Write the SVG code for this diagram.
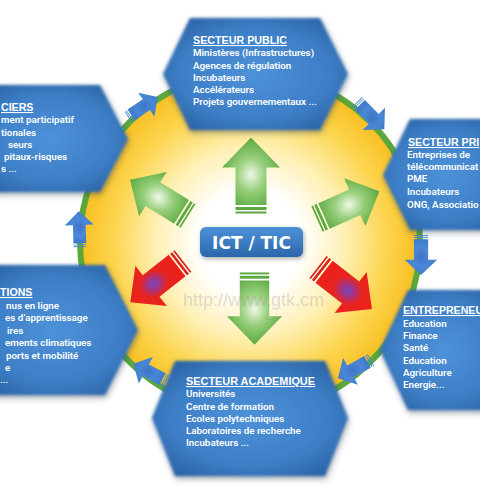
<svg xmlns="http://www.w3.org/2000/svg" width="480" height="504" viewBox="0 0 480 504">
<defs>
<style>
.t{font-family:Roboto,"Liberation Sans",sans-serif;font-weight:600;font-size:9.8px;fill:#fff}
.h{font-family:"Liberation Sans",Arial,sans-serif;font-weight:bold;font-size:10.6px;fill:#fff;text-decoration:underline}
.hex{fill:url(#hexg);filter:url(#hexf)}
.ga{fill:url(#greeng)}
.gs{fill:#5aa83e}
.ra{fill:url(#redg)}
.rs{fill:#d8241c}
.ba{fill:url(#blueg)}
.bs{fill:#4a86d0}
</style>
<radialGradient id="sun" cx="250" cy="242" r="172" gradientUnits="userSpaceOnUse">
<stop offset="0" stop-color="#ffffff"/>
<stop offset="0.3" stop-color="#ffffff"/>
<stop offset="0.55" stop-color="#fff0b4"/>
<stop offset="0.8" stop-color="#fcd44c"/>
<stop offset="1" stop-color="#f8bd1e"/>
</radialGradient>
<radialGradient id="hexg" cx="0.5" cy="0.5" r="0.62">
<stop offset="0" stop-color="#4d92d8"/>
<stop offset="0.65" stop-color="#3d7ec6"/>
<stop offset="1" stop-color="#2a62a4"/>
</radialGradient>
<radialGradient id="greeng" cx="0.45" cy="0.5" r="0.55">
<stop offset="0" stop-color="#eef8e6"/>
<stop offset="0.45" stop-color="#98cf7c"/>
<stop offset="1" stop-color="#5aa83e"/>
</radialGradient>
<radialGradient id="redg" cx="0.5" cy="0.5" r="0.5">
<stop offset="0" stop-color="#6a4cb8"/>
<stop offset="0.2" stop-color="#a2358a"/>
<stop offset="0.5" stop-color="#e6241f"/>
<stop offset="1" stop-color="#ee2019"/>
</radialGradient>
<radialGradient id="blueg" cx="0.5" cy="0.5" r="0.55">
<stop offset="0" stop-color="#3f74c8"/>
<stop offset="0.5" stop-color="#4a88d6"/>
<stop offset="1" stop-color="#3a78c8"/>
</radialGradient>
<linearGradient id="boxg" x1="0" y1="0" x2="0" y2="1">
<stop offset="0" stop-color="#4d92d8"/>
<stop offset="1" stop-color="#2b66ac"/>
</linearGradient>
<filter id="hexf" x="-15%" y="-15%" width="130%" height="135%">
<feGaussianBlur in="SourceAlpha" stdDeviation="3" result="b"/>
<feOffset in="b" dx="1" dy="3" result="o"/>
<feFlood flood-color="#3c4650" flood-opacity="0.45"/>
<feComposite in2="o" operator="in" result="sh"/>
<feGaussianBlur in="SourceGraphic" stdDeviation="1.6" result="s"/>
<feMerge><feMergeNode in="sh"/><feMergeNode in="s"/></feMerge>
</filter>
<filter id="boxf" x="-20%" y="-30%" width="140%" height="170%">
<feGaussianBlur in="SourceAlpha" stdDeviation="2" result="b"/>
<feOffset in="b" dx="1" dy="2" result="o"/>
<feFlood flood-color="#333" flood-opacity="0.4"/>
<feComposite in2="o" operator="in" result="sh"/>
<feMerge><feMergeNode in="sh"/><feMergeNode in="SourceGraphic"/></feMerge>
</filter>
<g id="bigG">
<rect class="gs" x="0" y="-15.5" width="2" height="31"/>
<rect class="gs" x="3.5" y="-15.5" width="3" height="31"/>
<path class="ga" d="M8.5,-15.5 L46,-15.5 L46,-29 L76,0 L46,29 L46,15.5 L8.5,15.5 Z"/>
</g>
<g id="bigR">
<rect class="rs" x="0" y="-15.5" width="2" height="31"/>
<rect class="rs" x="3.5" y="-15.5" width="3" height="31"/>
<path class="ra" d="M8.5,-15.5 L46,-15.5 L46,-29 L76,0 L46,29 L46,15.5 L8.5,15.5 Z"/>
</g>
<g id="smallB">
<rect class="bs" x="0" y="-7.5" width="1" height="15"/>
<rect class="bs" x="2" y="-7.5" width="1" height="15"/>
<path class="ba" d="M4.5,-7.5 L26,-7.5 L26,-17 L42,0 L26,17 L26,7.5 L4.5,7.5 Z"/>
</g>
</defs>

<rect x="0" y="0" width="480" height="504" fill="#ffffff"/>

<g id="hub">
<circle cx="250" cy="242" r="170" fill="url(#sun)" stroke="#5aa83c" stroke-width="6"/>
</g>

<g id="public">
<polygon class="hex" points="163,74 190,18 320,18 348,74 320,130 190,130"/>
<text class="h" x="193" y="44" textLength="94" lengthAdjust="spacingAndGlyphs">SECTEUR PUBLIC</text>
<text class="t" x="193" y="56">Ministères (Infrastructures)</text>
<text class="t" x="193" y="68.5">Agences de régulation</text>
<text class="t" x="193" y="81">Incubateurs</text>
<text class="t" x="193" y="93">Accélérateurs</text>
<text class="t" x="193" y="105">Projets gouvernementaux ...</text>
</g>

<g id="financiers">
<polygon class="hex" points="-30,85 100,85 128,139 100,192 -30,192"/>
<text class="h" x="1" y="111">CIERS</text>
<text class="t" x="1" y="123">ment participatif</text>
<text class="t" x="1" y="135.5">tionales</text>
<text class="t" x="8" y="148">seurs</text>
<text class="t" x="4" y="160">pitaux-risques</text>
<text class="t" x="1" y="172">s ...</text>
</g>

<g id="prive">
<polygon class="hex" points="383,175 410,119 510,119 510,230 410,230"/>
<text class="h" x="408" y="146">SECTEUR PRI</text>
<text class="t" x="407" y="158">Entreprises de</text>
<text class="t" x="407" y="170">télécommunicat</text>
<text class="t" x="407" y="182">PME</text>
<text class="t" x="407" y="195">Incubateurs</text>
<text class="t" x="407" y="208">ONG, Associatio</text>
</g>

<g id="solutions">
<polygon class="hex" points="-30,265 105,265 138,330 105,395 -30,395"/>
<text class="h" x="0" y="296">TIONS</text>
<text class="t" x="6" y="308.5">nus en ligne</text>
<text class="t" x="5" y="321">es d’apprentissage</text>
<text class="t" x="7" y="333.5">ires</text>
<text class="t" x="5" y="346">ements climatiques</text>
<text class="t" x="6" y="358.5">ports et mobilité</text>
<text class="t" x="5" y="371">e</text>
<text class="t" x="0" y="383">...</text>
</g>

<g id="entrepreneurs">
<polygon class="hex" points="380,350 408,290 510,290 510,410 408,410"/>
<text class="h" x="403" y="314">ENTREPRENEU</text>
<text class="t" x="403" y="327">Education</text>
<text class="t" x="403" y="339">Finance</text>
<text class="t" x="403" y="351">Santé</text>
<text class="t" x="403" y="363.5">Education</text>
<text class="t" x="403" y="376">Agriculture</text>
<text class="t" x="403" y="388">Energie...</text>
</g>

<g id="academique">
<polygon class="hex" points="152,418 175,361 325,361 348,418 325,476 175,476"/>
<text class="h" x="186" y="385" textLength="129" lengthAdjust="spacingAndGlyphs">SECTEUR ACADEMIQUE</text>
<text class="t" x="186" y="397">Universités</text>
<text class="t" x="186" y="409.5">Centre de formation</text>
<text class="t" x="186" y="421.5">Ecoles polytechniques</text>
<text class="t" x="186" y="434">Laboratoires de recherche</text>
<text class="t" x="186" y="446">Incubateurs ...</text>
</g>

<g id="connectors">
<use href="#bigG" transform="translate(251,213.5) rotate(-90)"/>
<use href="#bigG" transform="translate(254.5,272.5) rotate(90) scale(0.95)"/>
<use href="#bigG" transform="translate(188,216) rotate(-148) scale(0.9)"/>
<use href="#bigG" transform="translate(317,219) rotate(-24) scale(0.9)"/>
<use href="#bigR" transform="translate(183,261) rotate(142) scale(0.88)"/>
<use href="#bigR" transform="translate(318,267) rotate(38) scale(0.9)"/>
<use href="#smallB" transform="translate(128,117) rotate(-34) scale(0.85)"/>
<use href="#smallB" transform="translate(357,102) rotate(45) scale(0.92)"/>
<use href="#smallB" transform="translate(421,235) rotate(90) scale(0.95)"/>
<use href="#smallB" transform="translate(371,360) rotate(151) scale(0.9)"/>
<use href="#smallB" transform="translate(166,381) rotate(-152) scale(0.88)"/>
<use href="#smallB" transform="translate(80,247) rotate(-92) scale(0.85)"/>
</g>

<g id="ict">
<rect x="200" y="227" width="103" height="30" rx="6" fill="url(#boxg)" filter="url(#boxf)"/>
<text x="251.5" y="248.5" text-anchor="middle" font-family="'DejaVu Sans',Verdana,sans-serif" font-weight="bold" font-size="17" fill="#fff">ICT / TIC</text>
</g>

<text x="183" y="306" font-family="'Liberation Sans',Arial,sans-serif" font-size="18" fill="#909090" fill-opacity="0.3">http://www.gtk.cm</text>
</svg>
